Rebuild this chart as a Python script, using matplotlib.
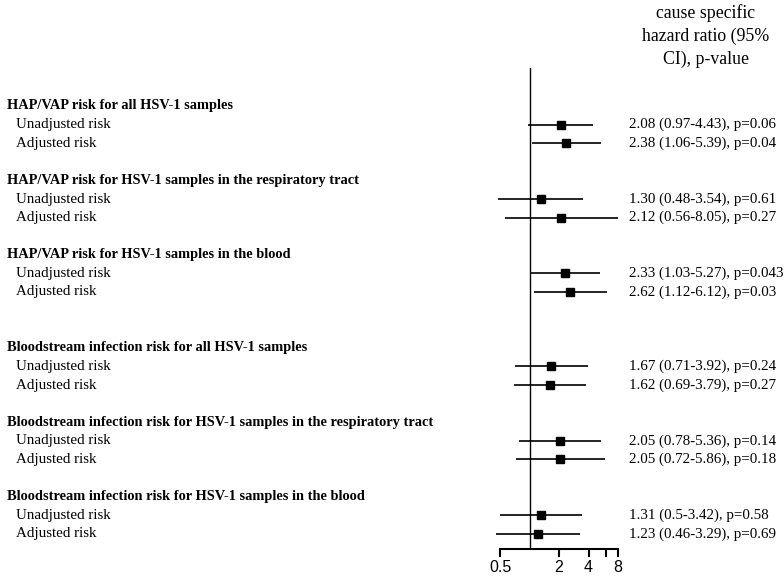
import matplotlib
matplotlib.use("Agg")
import matplotlib.pyplot as plt
import matplotlib.transforms as mtransforms

# -----------------------
# Data
# -----------------------
groups = [
    "HAP/VAP risk for all HSV-1 samples",
    "HAP/VAP risk for HSV-1 samples in the respiratory tract",
    "HAP/VAP risk for HSV-1 samples in the blood",
    "Bloodstream infection risk for all HSV-1 samples",
    "Bloodstream infection risk for HSV-1 samples in the respiratory tract",
    "Bloodstream infection risk for HSV-1 samples in the blood",
]
sub_labels = ["Unadjusted risk", "Adjusted risk"]

hr = [2.08, 2.38, 1.30, 2.12, 2.33, 2.62, 1.67, 1.62, 2.05, 2.05, 1.31, 1.23]
ci_low = [0.97, 1.06, 0.48, 0.56, 1.03, 1.12, 0.71, 0.69, 0.78, 0.72, 0.5, 0.46]
ci_high = [4.43, 5.39, 3.54, 8.05, 5.27, 6.12, 3.92, 3.79, 5.36, 5.86, 3.42, 3.29]
p_values = ["0.06", "0.04", "0.61", "0.27", "0.043", "0.03",
            "0.24", "0.27", "0.14", "0.18", "0.58", "0.69"]
ci_text = ["0.97-4.43", "1.06-5.39", "0.48-3.54", "0.56-8.05", "1.03-5.27", "1.12-6.12",
           "0.71-3.92", "0.69-3.79", "0.78-5.36", "0.72-5.86", "0.5-3.42", "0.46-3.29"]

# row index of each group header (extra gap between HAP/VAP and bloodstream blocks)
group_rows = [0, 4, 8, 13, 17, 21]

xticks = [0.5, 2, 4, 6, 8]
xtick_labels = ["0.5", "2", "4", "", "8"]

# -----------------------
# Layout
# -----------------------
W, H = 784, 578
fig = plt.figure(figsize=(W / 100, H / 100), dpi=100)

x0, x1 = 500, 618      # pixel extent of 0.5 .. 8
y_top, y_bot = 68, 549
ax = fig.add_axes([x0 / W, 1 - y_bot / H, (x1 - x0) / W, (y_bot - y_top) / H])
ax.set_xscale("log")
ax.set_xlim(0.5, 8)
step = 18.6
ax.set_ylim((y_bot - 106) / step, (y_top - 106) / step)

serif = "Liberation Serif"

trans = mtransforms.blended_transform_factory(fig.transFigure, ax.transData)

k = 0
for g, gr in zip(groups, group_rows):
    ax.text(7 / W, gr, g, transform=trans, fontfamily=serif, fontweight="bold",
            fontsize=10.4, va="center", ha="left")
    for j, lab in enumerate(sub_labels):
        y = gr + 1 + j
        ax.text(16 / W, y, lab, transform=trans, fontfamily=serif,
                fontsize=10.8, va="center", ha="left")
        ax.plot([ci_low[k], ci_high[k]], [y, y], color="black", lw=1.2,
                clip_on=False, solid_capstyle="butt")
        ax.plot(hr[k], y, marker="s", color="black", ms=5.4, clip_on=False)
        ax.text(629 / W, y, f"{hr[k]:.2f} ({ci_text[k]}), p={p_values[k]}",
                transform=trans, fontfamily=serif, fontsize=10.8, va="center", ha="left")
        k += 1

ax.axvline(1, color="black", lw=1.0)

for s in ["top", "right", "left"]:
    ax.spines[s].set_visible(False)
ax.spines["bottom"].set_linewidth(1.5)
ax.set_yticks([])
ax.set_xticks(xticks)
ax.set_xticklabels(xtick_labels, fontfamily="Liberation Sans", fontsize=11.5)
ax.xaxis.set_minor_locator(matplotlib.ticker.NullLocator())
ax.tick_params(axis="x", length=6, width=1.5, pad=2)

fig.text(706 / W, 1 - 36 / H, "cause specific\nhazard ratio (95%\nCI), p-value",
         fontfamily=serif, fontsize=12.8, ha="center", va="center",
         multialignment="center", linespacing=1.45)

fig.savefig("out.png", dpi=100)
